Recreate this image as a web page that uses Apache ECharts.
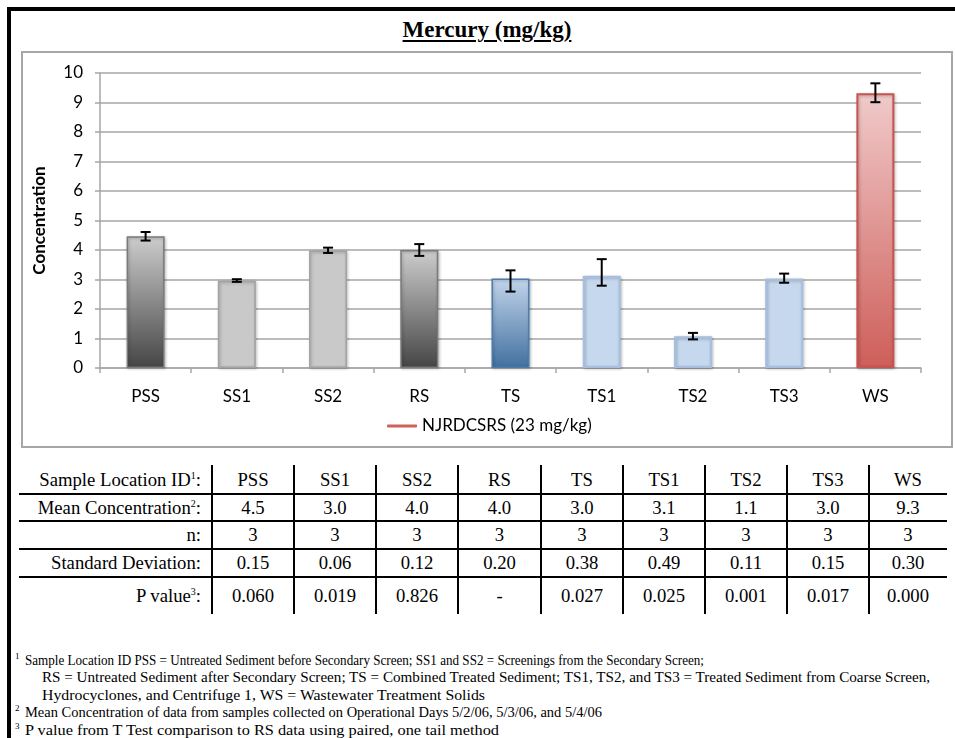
<!DOCTYPE html>
<html><head><meta charset="utf-8">
<script src="https://cdn.jsdelivr.net/npm/echarts@6/dist/echarts.min.js"></script>
<style>
body{margin:0;background:#fff;}
#page{position:relative;width:955px;height:738px;overflow:hidden;background:#fff;}
#frame{position:absolute;left:7px;top:7px;width:948px;height:731px;border-top:4px solid #000;border-left:4px solid #000;box-sizing:border-box;}
#box{position:absolute;left:21px;top:51px;width:932px;height:397px;border:2px solid #a6a6a6;box-sizing:border-box;}
#title{position:absolute;left:0;width:974px;top:17px;text-align:center;font-family:"Liberation Serif","Times New Roman",serif;font-weight:bold;font-size:23px;text-decoration:underline;text-decoration-thickness:1.5px;text-underline-offset:3px;color:#000;}
#chart{position:absolute;left:0;top:0;width:955px;height:450px;}
.serif{font-family:"Liberation Serif","Times New Roman",serif;color:#000;}
.cell{position:absolute;font-size:18.7px;white-space:nowrap;height:22px;line-height:22px;}
.cell sup{font-size:10px;vertical-align:7px;line-height:0;}
.hl{position:absolute;height:1.5px;background:#000;}
.vl{position:absolute;width:1.5px;background:#000;}
.note{position:absolute;font-size:15px;white-space:nowrap;line-height:17px;height:17px;transform-origin:0 50%;}
.note sup{font-size:9px;vertical-align:6px;line-height:0;}
</style></head>
<body>
<div id="page">
  <div id="frame"></div>
  <div id="box"></div>
  <div id="title">Mercury (mg/kg)</div>
  <div id="chart"></div>
  <div id="table" class="serif"></div>
  <div id="notes" class="serif"></div>
</div>
<script>
// ---------- data ----------
const categories = ['PSS','SS1','SS2','RS','TS','TS1','TS2','TS3','WS'];
const meanValues = [4.47, 2.96, 3.98, 4.00, 3.03, 3.13, 1.08, 3.03, 9.31];
const errLow  = [4.32, 2.92, 3.90, 3.80, 2.59, 2.79, 0.97, 2.89, 9.01];
const errHigh = [4.61, 3.01, 4.08, 4.20, 3.31, 3.69, 1.19, 3.20, 9.65];
const limitName = 'NJRDCSRS (23 mg/kg)';
const limitValue = 23;
const yMin = 0, yMax = 10, yInterval = 1;

const rowLabels = ['Sample Location ID<sup>1</sup>:', 'Mean Concentration<sup>2</sup>:', 'n:', 'Standard Deviation:', 'P value<sup>3</sup>:'];
const tableIds   = ['PSS','SS1','SS2','RS','TS','TS1','TS2','TS3','WS'];
const tableMean  = ['4.5','3.0','4.0','4.0','3.0','3.1','1.1','3.0','9.3'];
const tableN     = ['3','3','3','3','3','3','3','3','3'];
const tableSD    = ['0.15','0.06','0.12','0.20','0.38','0.49','0.11','0.15','0.30'];
const tablePValue= ['0.060','0.019','0.826','-','0.027','0.025','0.001','0.017','0.000'];

const footnotes = [
  {sup:'1', text:'Sample Location ID PSS = Untreated Sediment before Secondary Screen; SS1 and SS2 = Screenings from the Secondary Screen;'},
  {sup:'',  text:'RS = Untreated Sediment after Secondary Screen; TS = Combined Treated Sediment; TS1, TS2, and TS3 = Treated Sediment from Coarse Screen,'},
  {sup:'',  text:'Hydrocyclones, and Centrifuge 1, WS = Wastewater Treatment Solids'},
  {sup:'2', text:'Mean Concentration of data from samples collected on Operational Days 5/2/06, 5/3/06, and 5/4/06'},
  {sup:'3', text:'P value from T Test comparison to RS data using paired, one tail method'}
];

// ---------- styles ----------
function grad(top, bottom){
  return new echarts.graphic.LinearGradient(0,0,0,1,[{offset:0,color:top},{offset:1,color:bottom}]);
}
const darkGray  = {color: grad('#cdcdcd','#454545'), borderColor:'#7a7a7a', borderWidth:1.5};
const lightGray = {color: '#c9c9c9', borderColor:'#a2a2a2', borderWidth:1.5};
const blueGrad  = {color: grad('#c2d4eb','#41709f'), borderColor:'#4d7bad', borderWidth:1.5};
const lightBlue = {color: '#c6d8ee', borderColor:'#a6bfe0', borderWidth:2};
const redGrad   = {color: grad('#f0caca','#ce5e59'), borderColor:'#c9544f', borderWidth:2};
const barStyles = [darkGray, lightGray, lightGray, darkGray, blueGrad, lightBlue, lightBlue, lightBlue, redGrad];
const shadow = {shadowBlur:3, shadowColor:'rgba(0,0,0,0.25)', shadowOffsetX:1, shadowOffsetY:1};

const sans = 'Lato, "Open Sans", sans-serif';
const gridColor = '#a6a6a6';

const chart = echarts.init(document.getElementById('chart'), null, {renderer:'canvas'});
chart.setOption({
  animation:false,
  backgroundColor:'transparent',
  grid:{left:100, top:73, width:821, height:295, containLabel:false},
  legend:{
    data:[{name:limitName, icon:'roundRect'}],
    left:382, top:412, itemWidth:30, itemHeight:3,
    textStyle:{fontFamily:sans, fontSize:17, color:'#000', lineHeight:18}
  },
  xAxis:{
    type:'category', data:categories,
    axisLine:{lineStyle:{color:gridColor, width:1.5}},
    axisTick:{show:true, length:5, lineStyle:{color:gridColor, width:1.5}},
    axisLabel:{fontFamily:sans, fontSize:17, color:'#000', margin:20},
    splitLine:{show:false}
  },
  yAxis:{
    type:'value', min:yMin, max:yMax, interval:yInterval,
    name:'Concentration', nameLocation:'middle', nameGap:52,
    nameTextStyle:{fontFamily:sans, fontSize:17, fontWeight:'bold', color:'#000'},
    axisLine:{show:true, lineStyle:{color:gridColor, width:1.5}},
    axisTick:{show:true, length:5, lineStyle:{color:gridColor, width:1.5}},
    axisLabel:{fontFamily:sans, fontSize:17, color:'#000', margin:17},
    splitLine:{lineStyle:{color:gridColor, width:1.5}}
  },
  series:[
    {
      name:'Mercury', type:'bar', barWidth:38,
      data: meanValues.map((v,i)=>({value:v, itemStyle:Object.assign({}, barStyles[i], shadow)})),
      z:2
    },
    {
      name:'err', type:'custom', z:5,
      data: categories.map((c,i)=>[i, errLow[i], errHigh[i]]),
      renderItem:function(params, api){
        const x = api.value(0);
        const pLo = api.coord([x, api.value(1)]);
        const pHi = api.coord([x, api.value(2)]);
        const hw = 5;
        const st = {stroke:'#000', lineWidth:2};
        return {type:'group', children:[
          {type:'line', shape:{x1:pLo[0], y1:pLo[1], x2:pHi[0], y2:pHi[1]}, style:st},
          {type:'line', shape:{x1:pLo[0]-hw, y1:pLo[1], x2:pLo[0]+hw, y2:pLo[1]}, style:st},
          {type:'line', shape:{x1:pHi[0]-hw, y1:pHi[1], x2:pHi[0]+hw, y2:pHi[1]}, style:st}
        ]};
      }
    },
    {
      name:limitName, type:'line', symbol:'none', clip:true,
      data: categories.map(()=>limitValue),
      itemStyle:{color:'#d0625d'}, lineStyle:{color:'#d0625d', width:3}
    }
  ]
});

// ---------- table ----------
const table = document.getElementById('table');
const colEdges = [212, 294, 376, 458, 541, 623, 705, 787, 869, 947];
const rowCenters = [480, 507.5, 535, 562.5, 596];
const hLines = [494, 521, 549, 577];
const rows = [tableIds, tableMean, tableN, tableSD, tablePValue];
function add(cls, css, html){
  const d = document.createElement('div'); d.className = cls;
  Object.assign(d.style, css); if(html!==undefined) d.innerHTML = html;
  table.appendChild(d);
}
hLines.forEach(y=>add('hl',{left:'19px', top:(y-0.75)+'px', width:'928px'}));
colEdges.slice(0,9).forEach(x=>add('vl',{left:(x-0.75)+'px', top:'465px', height:'149px'}));
rowLabels.forEach((lab,r)=>{
  add('cell',{right:(955-201)+'px', top:(rowCenters[r]-11)+'px', textAlign:'right'}, lab);
  rows[r].forEach((v,c)=>{
    const l = colEdges[c], w = colEdges[c+1]-colEdges[c];
    add('cell',{left:l+'px', width:w+'px', top:(rowCenters[r]-11)+'px', textAlign:'center'}, v);
  });
});

// ---------- footnotes ----------
const notes = document.getElementById('notes');
const noteCenters = [660, 677.5, 695, 712.5, 730];
const noteEnds = [704, 930, 485, 602, 499];
footnotes.forEach((f,i)=>{
  const top = (noteCenters[i]-8.5)+'px';
  if(f.sup){
    const s = document.createElement('div'); s.className='note';
    Object.assign(s.style,{left:'15px', top:top});
    s.innerHTML = '<sup>'+f.sup+'</sup>';
    notes.appendChild(s);
  }
  const left = f.sup?25:42;
  const d = document.createElement('div'); d.className='note';
  Object.assign(d.style,{left:left+'px', top:top});
  d.textContent = f.text;
  notes.appendChild(d);
  const w = d.getBoundingClientRect().width;
  const target = noteEnds[i]-left;
  if(w>0) d.style.transform = 'scaleX('+(target/w).toFixed(4)+')';
});
</script>
</body></html>
